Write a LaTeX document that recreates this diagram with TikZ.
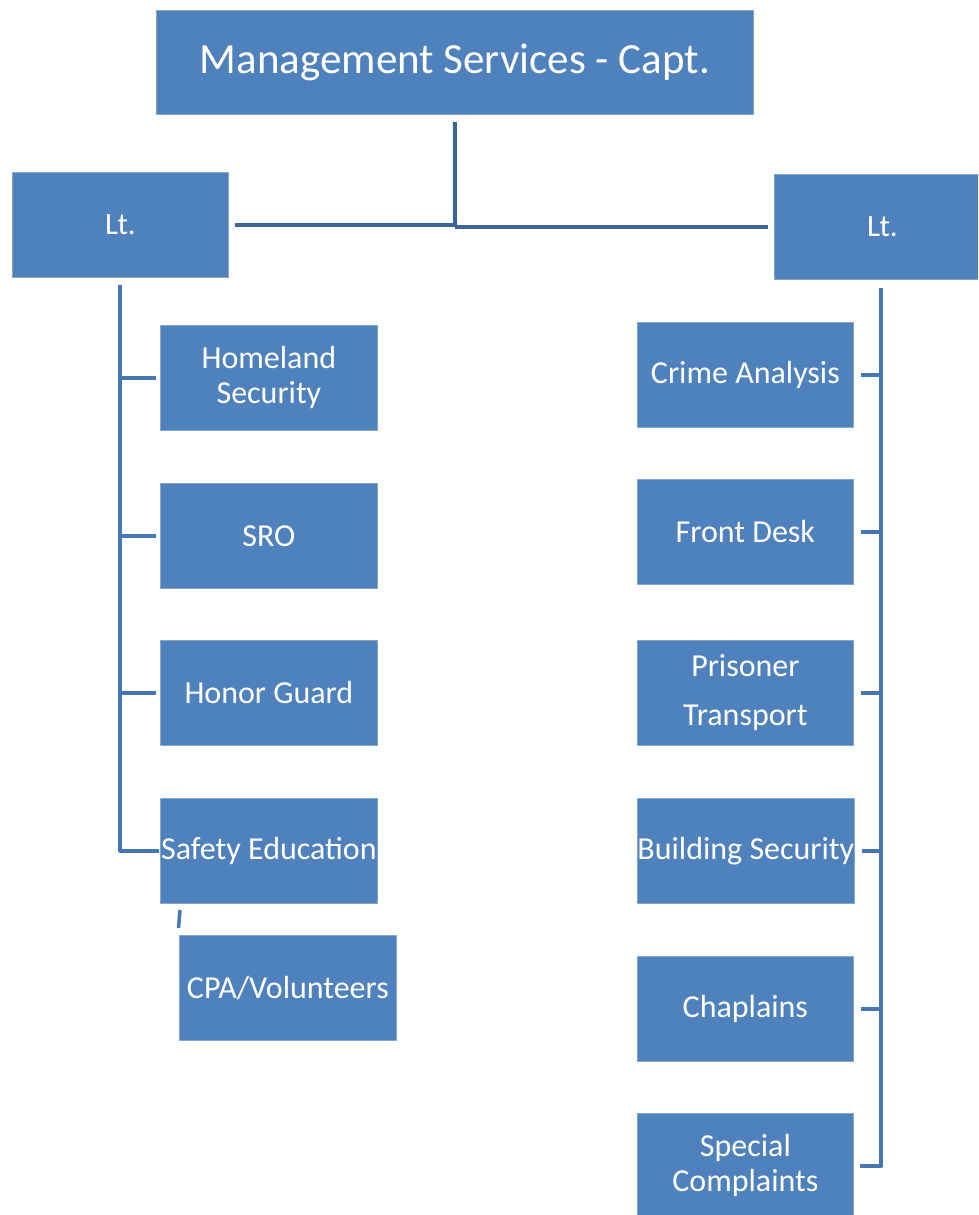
\documentclass[tikz,border=0pt]{standalone}
\usepackage{fontspec}
\setmainfont{Carlito}
\definecolor{boxblue}{HTML}{4F81BD}
\definecolor{topline}{HTML}{3D6496}
\definecolor{spine}{HTML}{4677B5}
\begin{document}
\begin{tikzpicture}[x=1pt,y=-1pt,
  unit/.style={anchor=north west, fill=boxblue, draw=boxblue!70!white, line width=0.8pt,
    text=white, inner sep=0pt, minimum width=217, minimum height=105, align=center,
    font=\fontsize{32}{35}\selectfont},
  ltbox/.style={unit, minimum width=216, minimum height=105, font=\fontsize{31}{34}\selectfont},
  topln/.style={draw=topline, line width=4pt},
  spln/.style={draw=spine, line width=4pt}]
\useasboundingbox (0,0) rectangle (978,1215);
\clip (0,0) rectangle (978,1215);
% boxes
\node[unit, minimum width=597, minimum height=104, font=\fontsize{43}{50}\selectfont] (top) at (156,10) {Management Services - Capt.};
\node[ltbox] (ltL) at (12,172) {Lt.};
\node[ltbox] (ltR) at (774,174) {Lt.};
\node[unit] (home) at (160,325) {Homeland\\Security};
\node[unit] (sro) at (160,483) {SRO};
\node[unit] (honor) at (160,640) {Honor Guard};
\node[unit] (safety) at (160,798) {Safety Education};
\node[unit] (cpa) at (179,935) {CPA/Volunteers};
\node[unit, minimum width=216] (crime) at (637,322) {Crime Analysis};
\node[unit, minimum width=216] (front) at (637,479) {Front Desk};
\node[unit, minimum width=216, font=\fontsize{32}{49}\selectfont] (pris) at (637,640) {Prisoner\\Transport};
\node[unit, minimum width=216] (build) at (637,798) {Building Security};
\node[unit, minimum width=216] (chap) at (637,956) {Chaplains};
\node[unit, minimum width=216] (spec) at (637,1113) {Special\\Complaints};
% top connectors
\coordinate (topstub) at ([yshift=-7pt]top.south);
\coordinate (j) at (455,226);
\draw[topln] (topstub) -- (j);
\draw[topln, shorten <=6pt] (ltL.east) -- (ltL.east -| j);
\draw[topln, shorten >=6pt] (j |- ltR.west) -- (ltR.west);
% left spine
\coordinate (ls) at ([yshift=-7pt]ltL.south);
\draw[spln, line join=round] (ls) |- ([xshift=-1pt]safety.west);
\foreach \n in {home,sro,honor}
  \draw[spln, shorten >=4pt] (\n.west -| ls) -- (\n.west);
% right spine
\coordinate (rs) at ([xshift=-1pt,yshift=-8pt]ltR.south);
\draw[spln, line join=round] (rs) |- ([xshift=6pt]spec.east);
\foreach \n in {crime,front,pris,build,chap}
  \draw[spln, shorten >=7pt] (\n.east -| rs) -- (\n.east);
% small dash between Safety Education and CPA
\coordinate (d1) at (180,910);
\coordinate (d2) at (178.5,928);
\draw[spln, line width=3.5pt] (d1) -- (d2);
\end{tikzpicture}
\end{document}
